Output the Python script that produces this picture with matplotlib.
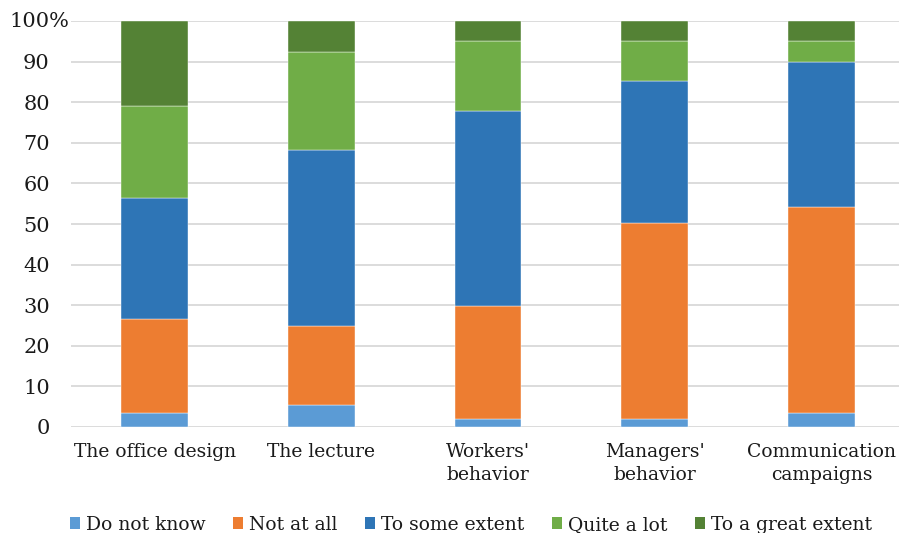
import matplotlib.pyplot as plt
import numpy as np
from matplotlib.patches import Patch
from matplotlib.transforms import ScaledTranslation

categorias = ["The office design", "The lecture", "Workers'\nbehavior",
              "Managers'\nbehavior", "Communication\ncampaigns"]
respostas = ["Do not know", "Not at all", "To some extent", "Quite a lot", "To a great extent"]
cores = ["#5b9bd5", "#ed7d31", "#2e75b6", "#70ad47", "#548235"]

nao_sabe = [3.3, 5.4, 1.8, 1.8, 3.3]
nada = [23.2, 19.4, 28.1, 48.4, 50.9]
alguma = [29.9, 43.5, 48.0, 35.1, 35.7]
bastante = [22.7, 24.1, 17.2, 9.8, 5.2]
muito = [20.9, 7.6, 4.9, 4.9, 4.9]
series = [nao_sabe, nada, alguma, bastante, muito]

plt.rcParams['font.family'] = ['DejaVu Serif']

fig = plt.figure(figsize=(8.99, 5.33), dpi=100)
ax = fig.add_axes([0.0793, 0.1994, 0.9207, 0.7606])

x = np.arange(len(categorias))
base = np.zeros(len(categorias))
for valores, cor, nome in zip(series, cores, respostas):
    ax.bar(x, valores, 0.40, bottom=base, color=cor, label=nome,
           edgecolor='white', linewidth=0.3, zorder=3)
    base += np.array(valores)

ax.set_xlim(-0.5, 4.465)
ax.set_ylim(0, 100)
ax.set_yticks(range(0, 101, 10))
ax.set_yticklabels([str(v) for v in range(0, 100, 10)] + [''])
ax.tick_params(axis='y', length=0, pad=15.5, labelsize=15, labelcolor='#1a1a1a')
ax.text(0, 100, "100%", ha='right', va='center', fontsize=15, color='#1a1a1a',
        transform=ax.get_yaxis_transform() + ScaledTranslation(-1.5 / 100, 0, fig.dpi_scale_trans))

ax.set_xticks(x)
ax.set_xticklabels(categorias, fontsize=13.5, linespacing=1.3)
ax.tick_params(axis='x', length=0, pad=12, labelcolor='#1a1a1a')

ax.yaxis.grid(True, color='#d9d9d9', linewidth=1.3, zorder=0)
ax.set_axisbelow(True)
for lado in ax.spines.values():
    lado.set_visible(False)

alcas = [Patch(facecolor=c) for c in cores]
fig.legend(alcas, respostas, loc='upper left', bbox_to_anchor=(0.067, 0.05),
           ncol=5, frameon=False, fontsize=13.5, borderpad=0,
           handlelength=0.55, handleheight=0.55, handletextpad=0.3,
           columnspacing=1.48, labelcolor='#1a1a1a')

fig.savefig("out.png", dpi=100)
